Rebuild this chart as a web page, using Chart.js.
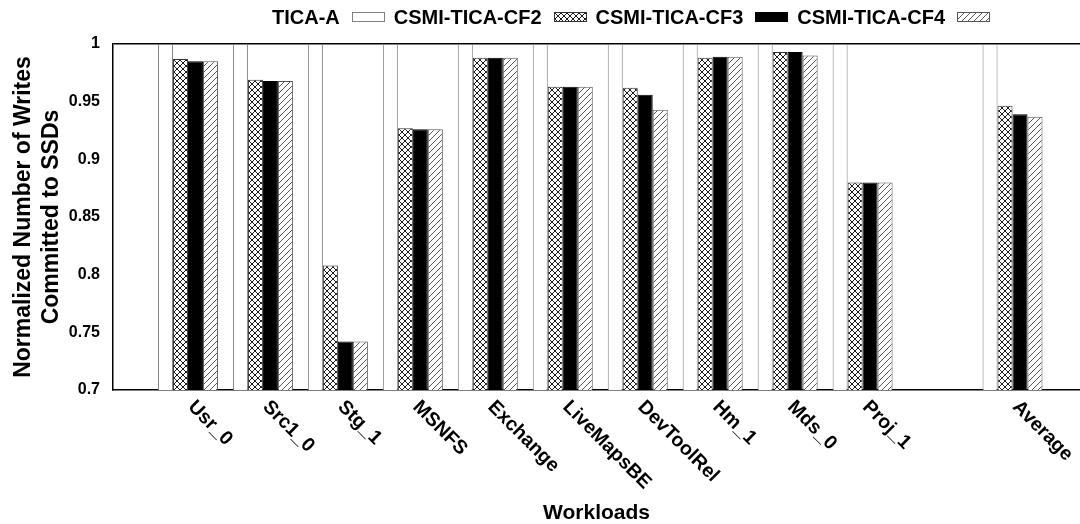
<!DOCTYPE html>
<html>
<head>
<meta charset="utf-8">
<script src="https://cdn.jsdelivr.net/npm/chart.js@4"></script>
<style>
  html, body { margin: 0; padding: 0; background: #fff; overflow: hidden; }
  #wrap { position: relative; width: 1080px; height: 524px; }
  #legend {
    position: absolute; left: 272px; top: 6px; height: 22px;
    display: flex; align-items: center; white-space: nowrap;
    font: bold 20px "Liberation Sans", Arial, sans-serif; color: #000;
  }
  #legend .sw { width: 33px; height: 10px; box-sizing: border-box; margin: 0 9px 0 12px; }
</style>
</head>
<body>
<div id="wrap">
  <canvas id="chart" width="1080" height="524"></canvas>
  <div id="legend"></div>
</div>
<script>
// Workload traces (blank slot separates the average group)
const workloads = ['Usr_0', 'Src1_0', 'Stg_1', 'MSNFS', 'Exchange', 'LiveMapsBE',
                   'DevToolRel', 'Hm_1', 'Mds_0', 'Proj_1', '', 'Average'];
const seriesNames = ['TICA-A', 'CSMI-TICA-CF2', 'CSMI-TICA-CF3', 'CSMI-TICA-CF4'];

// Writes committed to SSDs, normalized to TICA-A
const ticaA = [1, 1, 1, 1, 1, 1, 1, 1, 1, 1, null, 1];
const cf2   = [0.987, 0.969, 0.808, 0.927, 0.988, 0.963, 0.962, 0.988, 0.993, 0.880, null, 0.9465];
const cf3   = [0.985, 0.968, 0.742, 0.926, 0.988, 0.963, 0.956, 0.989, 0.993, 0.880, null, 0.939];
const cf4   = [0.985, 0.968, 0.742, 0.926, 0.988, 0.963, 0.943, 0.989, 0.990, 0.880, null, 0.937];

const yTicks = [0.7, 0.75, 0.8, 0.85, 0.9, 0.95, 1];

const FONT = '"Liberation Sans", Arial, sans-serif';

// Fill tiles
function makeTile(draw) {
  const t = document.createElement('canvas');
  t.width = 6; t.height = 6;
  const g = t.getContext('2d');
  g.fillStyle = '#fff';
  g.fillRect(0, 0, 6, 6);
  draw(g);
  return t;
}
const crossTile = makeTile(g => {
  g.strokeStyle = '#000'; g.lineWidth = 0.9;
  g.beginPath();
  g.moveTo(0, 0); g.lineTo(6, 6);
  g.moveTo(6, 0); g.lineTo(0, 6);
  g.stroke();
});
const diagTile = makeTile(g => {
  g.strokeStyle = '#444'; g.lineWidth = 0.9;
  g.beginPath();
  g.moveTo(-1, 7); g.lineTo(7, -1);
  g.stroke();
});
const ctx = document.getElementById('chart').getContext('2d');
const crossFill = ctx.createPattern(crossTile, 'repeat');
const diagFill = ctx.createPattern(diagTile, 'repeat');

const styles = [
  { bg: '#ffffff', border: '#808080', css: '#fff' },
  { bg: crossFill, border: '#333333', css: 'url(' + crossTile.toDataURL() + ')' },
  { bg: '#000000', border: '#000000', css: '#000' },
  { bg: diagFill,  border: '#555555', css: 'url(' + diagTile.toDataURL() + ')' }
];

const toPoints = arr => arr.map((v, i) => ({ x: i + 1, y: v }));
const seriesValues = [ticaA, cf2, cf3, cf4];

const datasets = seriesNames.map((name, k) => ({
  label: name,
  data: toPoints(seriesValues[k]),
  backgroundColor: styles[k].bg,
  borderColor: styles[k].border,
  borderWidth: 1,
  barPercentage: 1.0,
  categoryPercentage: 0.8
}));

// Legend: label followed by its swatch
const legend = document.getElementById('legend');
seriesNames.forEach((name, k) => {
  const s = document.createElement('span');
  s.textContent = name;
  legend.appendChild(s);
  const sw = document.createElement('div');
  sw.className = 'sw';
  sw.style.background = styles[k].css;
  sw.style.border = '1px solid ' + styles[k].border;
  legend.appendChild(sw);
});

// Slanted workload names under each group
const slantedLabels = {
  id: 'slantedLabels',
  afterDraw(chart) {
    const xs = chart.scales.x;
    const c = chart.ctx;
    c.save();
    c.font = 'bold 19.5px ' + FONT;
    c.fillStyle = '#000';
    c.textAlign = 'left';
    c.textBaseline = 'middle';
    workloads.forEach((name, i) => {
      if (!name) return;
      const px = xs.getPixelForValue(i + 1);
      c.save();
      c.translate(px + 3, chart.chartArea.bottom + 14);
      c.rotate(Math.PI / 4);
      c.fillText(name, 0, 0);
      c.restore();
    });
    c.restore();
  }
};

new Chart(ctx, {
  type: 'bar',
  data: { datasets },
  plugins: [slantedLabels],
  options: {
    responsive: false,
    animation: false,
    layout: { padding: { top: 44, left: 0, right: 0, bottom: 0 } },
    plugins: { legend: { display: false }, tooltip: { enabled: false } },
    scales: {
      x: {
        type: 'linear',
        offset: false,
        min: 0,
        max: 12.9,
        ticks: { display: false, stepSize: 1, includeBounds: false, maxTicksLimit: 20 },
        grid: { display: false, drawTicks: false, offset: false },
        border: { display: true, color: '#000', width: 1.5 },
        title: {
          display: true, text: 'Workloads', color: '#000',
          font: { family: FONT, size: 21, weight: 'bold', lineHeight: 1 },
          padding: { top: 0, bottom: 0 }
        },
        afterFit: s => { s.height = 134; }
      },
      y: {
        min: 0.7,
        max: 1,
        afterBuildTicks: s => { s.ticks = yTicks.map(v => ({ value: v })); },
        ticks: {
          color: '#000', padding: 13,
          font: { family: FONT, size: 16, weight: 'bold' },
          callback: v => String(v)
        },
        grid: {
          drawTicks: false,
          color: c => (c.tick && c.tick.value === 1 ? '#000' : 'rgba(0,0,0,0)'),
          lineWidth: 1.5
        },
        border: { display: true, color: '#000', width: 1.5 },
        title: {
          display: true,
          text: ['Normalized Number of Writes', 'Committed to SSDs'],
          color: '#000',
          font: { family: FONT, size: 23, weight: 'bold', lineHeight: 1.25 },
          padding: { top: 9, bottom: 0 }
        },
        afterFit: s => { s.width = 113; }
      }
    }
  }
});
</script>
</body>
</html>
